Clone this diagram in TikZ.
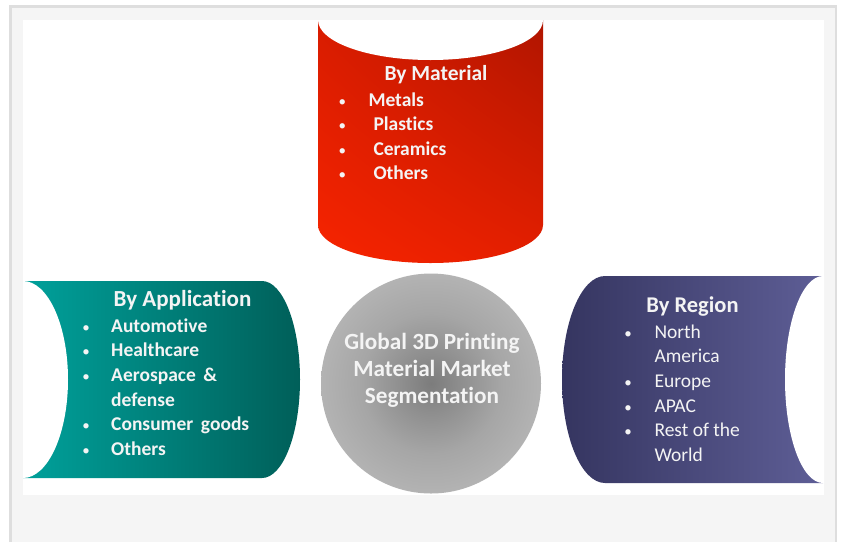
\documentclass[tikz,border=0pt]{standalone}
\usepackage{fontspec}
\setmainfont[Ligatures=NoCommon]{Carlito}
\usetikzlibrary{shadings}
\definecolor{framebg}{HTML}{F5F5F5}
\definecolor{frameline}{HTML}{DEDEDE}
\definecolor{redLL}{HTML}{F72400}
\definecolor{redUR}{HTML}{B01500}
\definecolor{redUL}{HTML}{D81C00}
\definecolor{redLR}{HTML}{E41F00}
\definecolor{tealL}{HTML}{00A19B}
\definecolor{tealR}{HTML}{005F59}
\definecolor{purL}{HTML}{353560}
\definecolor{purR}{HTML}{5E5E96}
\definecolor{gC}{HTML}{7C7C7C}
\definecolor{gM}{HTML}{8F8F8F}
\definecolor{gN}{HTML}{A6A6A6}
\definecolor{gO}{HTML}{B3B3B3}
\definecolor{txtc}{HTML}{F4F4F4}
\pgfdeclareradialshading{grayball}{\pgfpoint{0bp}{0bp}}{color(0bp)=(gC); color(7bp)=(gM); color(16bp)=(gN); color(25bp)=(gO); color(50bp)=(gO)}
\tikzset{
  ttl/.style={text=txtc, inner sep=0pt, anchor=base, font=\fontsize{22}{24}\selectfont\bfseries},
  itm/.style={text=txtc, inner sep=0pt, anchor=base west, font=\fontsize{19.5}{24}\selectfont\bfseries},
  itmr/.style={text=txtc, inner sep=0pt, anchor=base west, font=\fontsize{19.5}{24}\selectfont},
  bul/.style={text=txtc, inner sep=0pt, anchor=base, font=\fontsize{15}{24}\selectfont},
  ctr/.style={text=txtc, inner sep=0pt, anchor=base, font=\fontsize{23.2}{26}\selectfont\bfseries},
}
\begin{document}
\begin{tikzpicture}[x=1pt,y=-1pt]
\useasboundingbox (0,0) rectangle (842,542);
\fill[white] (0,0) rectangle (842,542);
\fill[framebg] (10,6) rectangle (837,542);
\draw[frameline, line width=2.5pt] (10.5,542) -- (10.5,6.5) -- (836,6.5) -- (836,542);
\fill[white] (23,20) rectangle (824,495);
\begin{scope}
\clip (23,20) rectangle (824,495);
% red cylinder
\shade[lower left=redLL, upper right=redUR, upper left=redUL, lower right=redLR]
  (318,20) -- (318,225) arc[start angle=180, end angle=0, x radius=112.5, y radius=38] -- (543,20) -- cycle;
\fill[white] (430.5,20) ellipse [x radius=112.5, y radius=40];
% teal
\shade[left color=tealL, right color=tealR]
  (23,281) -- (262,281) arc[start angle=-90, end angle=90, x radius=38, y radius=98.5] -- (23,478) -- cycle;
\fill[white] (23,379.5) ellipse [x radius=45, y radius=98.5];
% purple
\shade[left color=purL, right color=purR]
  (605,276) -- (823,276) -- (823,483) -- (605,483) arc[start angle=90, end angle=270, x radius=43, y radius=103.5] -- cycle;
\fill[white] (823,379.5) ellipse [x radius=38, y radius=103.5];
\end{scope}
% circle
\shade[shading=grayball] (431,383.5) circle (110);
% material
\node[ttl, font=\fontsize{21.5}{24}\selectfont\bfseries] (mt) at (436,80) {By Material};
\node[bul] (mb1) at (342.3,106) {•};
\node[bul] (mb2) at (342.3,130) {•};
\node[bul] (mb3) at (342.3,155) {•};
\node[bul] (mb4) at (342.3,179.3) {•};
\node[itm] (m1) at (368.3,106) {Metals};
\node[itm] (m2) at (373.3,130) {Plastics};
\node[itm] (m3) at (373.3,155) {Ceramics};
\node[itm] (m4) at (373.3,179.3) {Others};
% application
\node[ttl, font=\fontsize{23}{24}\selectfont\bfseries] (at) at (182.5,306.7) {By Application};
\node[bul] (ab1) at (86,332.7) {•};
\node[bul] (ab2) at (86,356.7) {•};
\node[bul] (ab3) at (86,381.7) {•};
\node[bul] (ab4) at (86,430.7) {•};
\node[bul] (ab5) at (86,455.7) {•};
\node[itm] (a1) at (111,332.7) {Automotive};
\node[itm] (a2) at (111,356.7) {Healthcare};
\node[itm] (a3) at (111,381.7) {Aerospace \,\&};
\node[itm] (a3b) at (111,406.7) {defense};
\node[itm] (a4) at (111,430.7) {Consumer \,goods};
\node[itm] (a5) at (111,455.7) {Others};
% region
\node[ttl, font=\fontsize{22.5}{24}\selectfont\bfseries] (rt) at (692.5,312.7) {By Region};
\node[bul] (rb1) at (628,338.3) {•};
\node[bul] (rb2) at (628,387.7) {•};
\node[bul] (rb3) at (628,412.7) {•};
\node[bul] (rb4) at (628,436.7) {•};
\node[itmr] (r1) at (654.3,338.3) {North};
\node[itmr] (r1b) at (654.3,362.3) {America};
\node[itmr] (r2) at (654.3,387.7) {Europe};
\node[itmr] (r3) at (654.3,412.7) {APAC};
\node[itmr] (r4) at (654.3,436.7) {Rest of the};
\node[itmr] (r4b) at (654.3,461) {World};
% center
\node[ctr] (c1) at (432,349) {Global 3D Printing};
\node[ctr] (c2) at (432,376.7) {Material Market};
\node[ctr] (c3) at (432,403.3) {Segmentation};
\end{tikzpicture}
\end{document}
